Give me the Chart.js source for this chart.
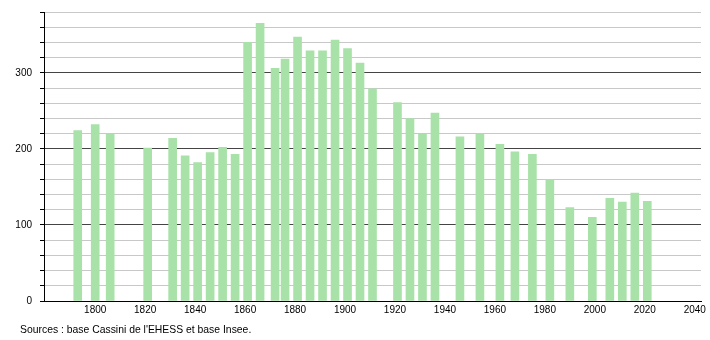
<!DOCTYPE html>
<html>
<head>
<meta charset="utf-8">
<script src="https://cdn.jsdelivr.net/npm/chart.js@4"></script>
<style>
  body { margin: 0; background: #fff; }
  #wrap { position: relative; width: 710px; height: 340px; }
  #source { position: absolute; left: 20px; top: 324px; font: 10.4px "Liberation Sans", Arial, sans-serif; color: #000; }
</style>
</head>
<body>
<div id="wrap">
  <canvas id="popChart" width="710" height="340"></canvas>
  <div id="source">Sources : base Cassini de l'EHESS et base Insee.</div>
</div>
<script>
// Années de recensement et population
const years = [1793, 1800, 1806, 1821, 1831, 1836, 1841, 1846, 1851, 1856,
  1861, 1866, 1872, 1876, 1881, 1886, 1891, 1896, 1901, 1906, 1911,
  1921, 1926, 1931, 1936, 1946, 1954, 1962, 1968, 1975, 1982, 1990,
  1999, 2006, 2011, 2016, 2021];
const population = [224, 232, 219, 201, 214, 191, 182, 195, 202, 193,
  340, 365, 306, 318, 347, 329, 329, 343, 332, 313, 279,
  261, 240, 219, 247, 216, 219, 206, 196, 193, 160, 123,
  110, 135, 130, 142, 131];
const xTicks = [1800, 1820, 1840, 1860, 1880, 1900, 1920, 1940, 1960, 1980, 2000, 2020, 2040];

const ctx = document.getElementById('popChart').getContext('2d');
const font = { family: '"Liberation Sans", Arial, sans-serif', size: 10 };

new Chart(ctx, {
  type: 'bar',
  data: {
    datasets: [{
      data: years.map((y, i) => ({ x: y, y: population[i] })),
      backgroundColor: '#a9e2a9',
      borderWidth: 0,
      barThickness: 8
    }]
  },
  options: {
    responsive: false,
    animation: false,
    layout: { padding: { top: 12, right: 9, left: 0, bottom: 0 } },
    plugins: { legend: { display: false }, tooltip: { enabled: false } },
    scales: {
      x: {
        type: 'linear',
        offset: false,
        min: 1779.5,
        max: 2042.5,
        afterBuildTicks: (scale) => { scale.ticks = xTicks.map(v => ({ value: v })); },
        afterFit: (scale) => { scale.height = 39; scale.paddingLeft = 0; scale.paddingRight = 0; },
        grid: { display: false, drawTicks: false },
        border: { display: true, color: '#000', width: 1 },
        ticks: { color: '#000', font: font, padding: 3, maxRotation: 0, autoSkip: false,
          callback: (v) => String(v) }
      },
      y: {
        min: 0,
        max: 380,
        afterFit: (scale) => { scale.width = 44; scale.paddingTop = 0; scale.paddingBottom = 0; },
        grid: {
          color: (c) => (c.tick && c.tick.value % 100 === 0) ? '#444' : '#c8c8c8',
          tickColor: '#000',
          tickLength: 4
        },
        border: { display: true, color: '#000', width: 1 },
        ticks: {
          stepSize: 20,
          color: '#000',
          font: font,
          padding: 8,
          callback: (v) => v % 100 === 0 ? v : ''
        }
      }
    }
  }
});
</script>
</body>
</html>
